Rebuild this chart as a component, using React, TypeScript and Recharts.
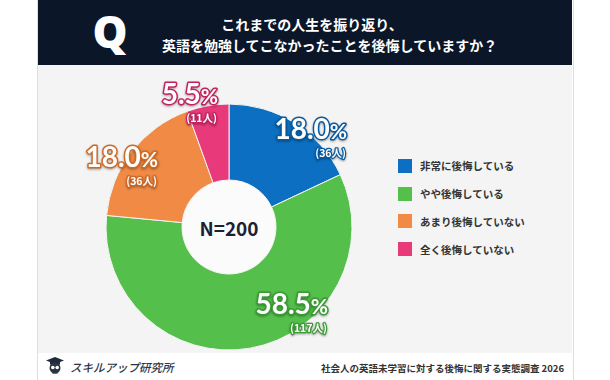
import React from 'react';
import { PieChart, Pie, Cell, Legend } from 'recharts';

const categories = ['非常に後悔している', 'やや後悔している', 'あまり後悔していない', '全く後悔していない'];
const percents = [18.0, 58.5, 18.0, 5.5];
const counts = [36, 117, 36, 11];
const sampleSize = 200;
const titleLines = ['これまでの人生を振り返り、', '英語を勉強してこなかったことを後悔していますか？'];
const brandName = 'スキルアップ研究所';
const sourceNote = '社会人の英語未学習に対する後悔に関する実態調査 2026';

const COLORS = ['#0c6fc1', '#55bf4b', '#f08a45', '#e8397b'];
const OUTLINES = ['#0a5a9e', '#3a9a33', '#cf6a26', '#c4225e'];
// label anchor offsets (right end of the percentage text) relative to pie centre
const LABEL_OFFSETS: [number, number][] = [[118, -88], [99, 87], [-71, -60], [-11, -123]];

const FONT = '"Noto Sans CJK JP", "Noto Sans", sans-serif';
const NUM_FONT = 'Lato, "Noto Sans", sans-serif';

const data = categories.map((name, i) => ({ name, value: percents[i], count: counts[i] }));

const renderLabel = (props: any) => {
  const { cx, cy, index } = props;
  const [dx, dy] = LABEL_OFFSETS[index];
  const x = Number(cx) + dx;
  const y = Number(cy) + dy;
  const d = data[index];
  const common = {
    fill: '#ffffff',
    stroke: OUTLINES[index],
    strokeLinejoin: 'round' as const,
    paintOrder: 'stroke',
    fontWeight: 700,
    textAnchor: 'end' as const,
    style: { filter: 'drop-shadow(0px 1px 1px rgba(0,0,0,0.35))' },
  };
  return (
    <g key={`lbl-${index}`}>
      {index === 0 && (
        <text
          x={Number(cx)}
          y={Number(cy)}
          textAnchor="middle"
          dominantBaseline="central"
          fontSize={19}
          fontWeight={700}
          fill="#1b2233"
          fontFamily={FONT}
        >
          {`N=${sampleSize}`}
        </text>
      )}
      <text x={x} y={y} {...common} strokeWidth={3} fontFamily={NUM_FONT}>
        <tspan fontSize={28}>{d.value.toFixed(1)}</tspan>
        <tspan fontSize={21}>%</tspan>
      </text>
      <text x={x - 1} y={y + 18} {...common} strokeWidth={2.5} fontSize={10.5} fontFamily={FONT}>
        ({d.count}人)
      </text>
    </g>
  );
};

const renderLegend = () => (
  <div style={{ fontFamily: FONT }}>
    {categories.map((c, i) => (
      <div key={c} style={{ display: 'flex', alignItems: 'center', height: 27.8 }}>
        <div style={{ width: 14, height: 14, background: COLORS[i], marginRight: 8 }} />
        <span style={{ fontSize: 10.5, fontWeight: 700, color: '#333' }}>{c}</span>
      </div>
    ))}
  </div>
);

export default function App() {
  return (
    <div style={{ position: 'absolute', left: 0, top: 0, width: 610, height: 380, background: '#fff', overflow: 'hidden', fontFamily: FONT }}>
      {/* panel */}
      <div style={{ position: 'absolute', left: 37, top: 0, width: 535, height: 380, borderLeft: '1px solid #dedede', borderRight: '1px solid #dedede', background: '#fff' }} />
      <div style={{ position: 'absolute', left: 38, top: 65, width: 534, height: 288, background: '#f4f4f4' }} />
      {/* header */}
      <div style={{ position: 'absolute', left: 38, top: 0, width: 534, height: 65, background: '#0b1729' }} />
      <div style={{ position: 'absolute', left: 88, top: -2, width: 44, height: 66, color: '#fff', fontSize: 44, fontWeight: 900, fontFamily: '"Noto Sans", "DejaVu Sans", sans-serif', lineHeight: '66px', textAlign: 'center' }}>Q</div>
      <div style={{ position: 'absolute', left: 162, top: 14, width: 300, textAlign: 'center', color: '#fff', fontSize: 14, fontWeight: 700, lineHeight: '21px', whiteSpace: 'nowrap' }}>
        <div>{titleLines[0]}</div>
        <div>{titleLines[1]}</div>
      </div>
      {/* footer */}
      <svg style={{ position: 'absolute', left: 46, top: 357 }} width={18} height={17} viewBox="0 0 18 17">
        <polygon points="9,0 18,3.5 9,7 0,3.5" fill="#1f2a3a" />
        <rect x={4} y={4.5} width={10} height={3} fill="#1f2a3a" />
        <circle cx={9} cy={11} r={5.5} fill="#2b3444" />
        <circle cx={6.8} cy={10.5} r={1.8} fill="#fff" />
        <circle cx={11.2} cy={10.5} r={1.8} fill="#fff" />
        <polygon points="6,16.5 9,14.5 12,16.5" fill="#2b3444" />
      </svg>
      <div style={{ position: 'absolute', left: 70, top: 359, fontSize: 11.5, fontWeight: 500, color: '#2b3444', whiteSpace: 'nowrap', fontStyle: 'italic' }}>{brandName}</div>
      <div style={{ position: 'absolute', right: 610 - 564, top: 361, fontSize: 9.5, fontWeight: 700, color: '#333', whiteSpace: 'nowrap' }}>{sourceNote}</div>
      {/* chart */}
      <div style={{ position: 'absolute', left: 0, top: 0 }}>
        <PieChart width={610} height={380}>
          <Pie
            data={[{ name: 'hole', value: 1 }]}
            dataKey="value"
            cx={224}
            cy={222}
            innerRadius={0}
            outerRadius={47}
            fill="#fbfbfb"
            stroke="none"
            isAnimationActive={false}
          />
          <Pie
            data={data}
            dataKey="value"
            nameKey="name"
            cx={224}
            cy={222}
            innerRadius={47}
            outerRadius={123}
            startAngle={90}
            endAngle={-270}
            stroke="#f4f4f4"
            strokeWidth={1}
            label={renderLabel}
            labelLine={false}
            isAnimationActive={false}
          >
            {data.map((d, i) => (
              <Cell key={d.name} fill={COLORS[i]} />
            ))}
          </Pie>
          <Legend
            content={renderLegend}
            wrapperStyle={{ position: 'absolute', left: 398, top: 152, width: 170 }}
          />
        </PieChart>
      </div>
    </div>
  );
}
